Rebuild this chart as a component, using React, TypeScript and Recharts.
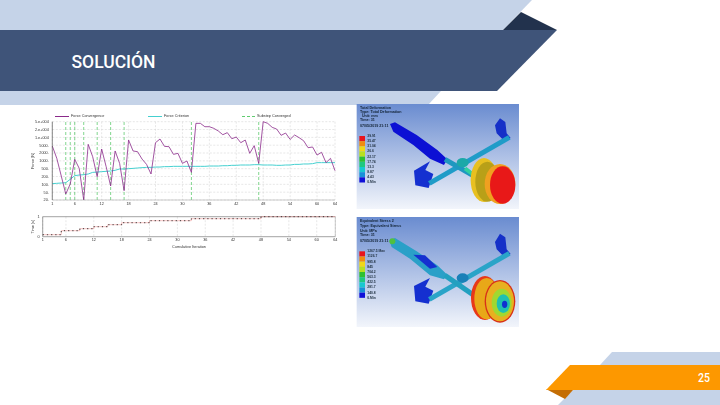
import { CartesianGrid, Line, LineChart, ReferenceLine, XAxis, YAxis } from 'recharts';

const iterationTicks = [1, 6, 12, 18, 24, 30, 36, 42, 48, 54, 60, 64];
const forceTickLabels = ['20.', '50.', '100.', '200.', '500.', '1000.', '2000.', '5000.', '1.e+004', '2.e+004', '5.e+004'];
const forceTicks = [0, 1, 2, 3, 4, 5, 6, 7, 8, 9, 10];

// values in grid steps, the force axis steps evenly through its labels
const forceConvergence = [
  6.89, 5.32, 3.06, 0.77, 2.04, 5.19, 4.04, 0, 7.11, 5.53, 2.98, 6.51, 4.26, 1.79, 6.26, 4.68,
  1.19, 7.66, 6.26, 6.17, 5.23, 4.55, 3.32, 7.32, 7.79, 6.85, 6.81, 5.83, 5.96, 4.68, 4.98, 3.53,
  9.79, 9.79, 9.36, 9.36, 9.15, 8.81, 8.34, 8.6, 7.83, 8.04, 7.32, 7.66, 5.96, 6.94, 4.68, 10,
  9.79, 9.28, 9.06, 8.26, 8.55, 7.74, 8.3, 7.96, 7.57, 6.68, 6.77, 5.74, 6.09, 4.77, 5.32, 3.74,
];
const forceCriterion = [
  2.09, 2.13, 2.17, 2.21, 2.64, 3.11, 3.19, 3.23, 3.32, 3.53, 3.57, 3.62, 3.66, 3.7, 3.79, 3.96,
  3.96, 4, 4.04, 4.09, 4.13, 4.17, 4.17, 4.21, 4.21, 4.26, 4.26, 4.3, 4.3, 4.3, 4.3, 4.3,
  4.3, 4.3, 4.3, 4.34, 4.34, 4.34, 4.38, 4.38, 4.43, 4.43, 4.47, 4.47, 4.47, 4.51, 4.51, 4.47,
  4.47, 4.47, 4.43, 4.43, 4.47, 4.47, 4.55, 4.55, 4.6, 4.6, 4.64, 4.77, 4.77, 4.77, 4.77, 4.77,
];
const substepConverged = [4, 5, 6, 8, 11, 14, 17, 32, 47];
const timeValues = [
  0.1, 0.1, 0.1, 0.1, 0.3, 0.3, 0.3, 0.3, 0.4, 0.4, 0.4, 0.5, 0.5, 0.5, 0.6, 0.6,
  0.6, 0.7, 0.7, 0.7, 0.7, 0.7, 0.7, 0.8, 0.8, 0.8, 0.8, 0.8, 0.8, 0.8, 0.8, 0.8,
  0.9, 0.9, 0.9, 0.9, 0.9, 0.9, 0.9, 0.9, 0.9, 0.9, 0.9, 0.9, 0.9, 0.9, 0.9, 1,
  1, 1, 1, 1, 1, 1, 1, 1, 1, 1, 1, 1, 1, 1, 1, 1,
];

const deformationLegend = ['39.91', '35.47', '31.04', '26.6', '22.17', '17.74', '13.3', '8.87', '4.43', '0.Min'];
const stressLegend = ['1267.5 Max', '1126.7', '985.8', '845', '704.2', '563.3', '422.5', '281.7', '140.8', '0.Min'];
const legendColors = ['#e8141c', '#f08c10', '#f0d818', '#b8e020', '#30c030', '#20c880', '#18c8d0', '#1890d8', '#1010d8'];

const forceData = forceConvergence.map((force, i) => ({ iter: i + 1, force, criterion: forceCriterion[i] }));
const timeData = timeValues.map((time, i) => ({ iter: i + 1, time }));

const tickStyle = { fontSize: 3.8, fill: '#333', fontFamily: 'Liberation Sans' };
const blur = 'blur(0.3px)';

function Slide() {
  return (
    <svg width={720} height={405} style={{ position: 'absolute', left: 0, top: 0 }}>
      <polygon points="0,0 532,0 503,30 0,30" fill="#c5d3e8" />
      <polygon points="0,91 441,91 428,105 0,105" fill="#c5d3e8" />
      <polygon points="503,30 521,12 557,30" fill="#22324d" />
      <polygon points="0,30 557,30 497,91 0,91" fill="#3f5479" />
      <polygon points="600,365 612,352 720,352 720,365" fill="#c5d3e8" />
      <polygon points="558,405 573,390 720,390 720,405" fill="#c5d3e8" />
      <polygon points="546,389 573,390 565,399" fill="#c46e05" />
      <polygon points="546,390 570,365 720,365 720,390" fill="#fd9800" />
      <text x={71.5} y={68} fontFamily="Roboto" fontWeight={500} fontSize={18.5} textLength={84} lengthAdjust="spacingAndGlyphs" fill="#fff">SOLUCIÓN</text>
      <text x={698} y={381.5} fontFamily="Roboto" fontWeight={500} fontSize={12} textLength={12} lengthAdjust="spacingAndGlyphs" fill="#fff">25</text>
    </svg>
  );
}

function ColorScale({ labels, y }: { labels: string[]; y: number }) {
  return (
    <g>
      {legendColors.map((c, i) => (
        <rect key={c} x={28} y={y + i * 15.5} width={17} height={15.5} fill={c} />
      ))}
      {labels.map((l, i) => (
        <text key={i} x={52} y={y + 3 + i * 15.5} fontSize={10} fontFamily="Liberation Sans" fontWeight={700} fill="#234">
          {l}
        </text>
      ))}
    </g>
  );
}

function Deformation() {
  return (
    <g transform="translate(350,100) scale(0.3333)">
      <rect x={20} y={12} width={487} height={315} fill="url(#render)" />
      <text fontSize={11} fontFamily="Liberation Sans" fontWeight={700} fill="#123">
        <tspan x={30} y={26}>Total Deformation</tspan>
        <tspan x={30} y={38}>Type: Total Deformation</tspan>
        <tspan x={36} y={50}>Unit: mm</tspan>
        <tspan x={30} y={62}>Time: 31</tspan>
        <tspan x={30} y={80}>07/05/2019 21:11</tspan>
      </text>
      <ColorScale labels={deformationLegend} y={108} />
      <polygon points="120,72 135,67 200,105 262,150 292,178 282,195 240,176 190,135 130,95" fill="#0c10d4" />
      <polygon points="192,212 240,184 226,210 250,222 236,264 196,256" fill="#1530d0" />
      <polygon points="435,76 450,55 466,66 470,100 482,114 462,122 440,100" fill="#1530c8" />
      <line x1={238} y1={250} x2={478} y2={112} stroke="#1f9cc8" strokeWidth={15} />
      <line x1={285} y1={178} x2={372} y2={228} stroke="#1e98c0" strokeWidth={15} />
      <ellipse cx={338} cy={188} rx={18} ry={14} fill="#1ca8a8" />
      <line x1={345} y1={205} x2={375} y2={228} stroke="#30d0a0" strokeWidth={12} />
      <ellipse cx={402} cy={240} rx={40} ry={66} fill="#e8c020" />
      <ellipse cx={412} cy={245} rx={36} ry={60} fill="#b8a018" />
      <ellipse cx={450} cy={252} rx={46} ry={60} fill="#f0a020" />
      <ellipse cx={458} cy={255} rx={38} ry={56} fill="#e81818" />
    </g>
  );
}

function Stress() {
  return (
    <g transform="translate(350,212) scale(0.3333)">
      <rect x={20} y={15} width={487} height={330} fill="url(#render)" />
      <text fontSize={11} fontFamily="Liberation Sans" fontWeight={700} fill="#123">
        <tspan x={30} y={30}>Equivalent Stress 2</tspan>
        <tspan x={30} y={45}>Type: Equivalent Stress</tspan>
        <tspan x={30} y={59}>Unit: MPa</tspan>
        <tspan x={30} y={73}>Time: 31</tspan>
        <tspan x={30} y={90}>07/05/2019 21:11</tspan>
      </text>
      <ColorScale labels={stressLegend} y={118} />
      <polygon points="118,85 135,78 200,118 262,160 292,188 282,202 240,190 180,140 125,105" fill="#2aa0c8" />
      <polygon points="190,128 225,130 262,165 240,170" fill="#1530d0" />
      <circle cx={127} cy={88} r={9} fill="#50c040" />
      <polygon points="192,222 240,198 226,224 250,236 236,275 196,268" fill="#1530d0" />
      <polygon points="435,90 450,65 466,76 470,112 482,126 462,134 440,112" fill="#1530c8" />
      <line x1={238} y1={262} x2={478} y2={124} stroke="#2aa4c8" strokeWidth={15} />
      <line x1={285} y1={190} x2={372} y2={250} stroke="#22a0c0" strokeWidth={15} />
      <ellipse cx={338} cy={198} rx={18} ry={14} fill="#1a80b8" />
      <ellipse cx={405} cy={258} rx={42} ry={66} fill="#e83818" />
      <ellipse cx={410} cy={260} rx={37} ry={62} fill="#e8a818" />
      <ellipse cx={450} cy={268} rx={46} ry={64} fill="#d83018" />
      <ellipse cx={450} cy={268} rx={42} ry={60} fill="#e8b020" />
      <ellipse cx={455} cy={272} rx={30} ry={42} fill="#a0d830" />
      <ellipse cx={460} cy={275} rx={20} ry={28} fill="#20c0b0" />
      <ellipse cx={464} cy={277} rx={8} ry={11} fill="#1030d0" />
    </g>
  );
}

function Renders() {
  return (
    <svg width={720} height={405} style={{ position: 'absolute', left: 0, top: 0, filter: 'blur(0.45px)' }}>
      <defs>
        <linearGradient id="render" x1="0" y1="0" x2="0" y2="1">
          <stop offset="0" stopColor="#6a8cd0" />
          <stop offset="1" stopColor="#f2f5fb" />
        </linearGradient>
      </defs>
      <Deformation />
      <Stress />
    </svg>
  );
}

function ForceLegend() {
  const item = (left: number, w: number, color: string, label: string, dash: boolean) => (
    <div style={{ position: 'absolute', left, top: 0, display: 'flex', alignItems: 'center', height: 6 }}>
      <div style={{ width: w, borderTop: `1px ${dash ? 'dashed' : 'solid'} ${color}`, marginRight: 2 }} />
      <span style={{ fontSize: 3.8, color: '#333', fontFamily: 'Liberation Sans', whiteSpace: 'nowrap' }}>{label}</span>
    </div>
  );
  return (
    <div style={{ position: 'absolute', left: 0, top: 113, width: 720, height: 6, filter: blur }}>
      {item(55, 14, '#8a2a8a', 'Force Convergence', false)}
      {item(148, 14, '#45d0d0', 'Force Criterion', false)}
      {item(242, 13, '#60cc70', 'Substep Converged', true)}
    </div>
  );
}

function ForceChart() {
  return (
    <div style={{ position: 'absolute', left: 20, top: 105, filter: blur }}>
      <LineChart width={330} height={106} data={forceData} margin={{ top: 16.7, right: 15, bottom: 0, left: 4.3 }}>
        <CartesianGrid stroke="#cfcfcf" strokeWidth={0.5} strokeDasharray="2 1.5" />
        <XAxis
          dataKey="iter"
          type="number"
          domain={[1, 64]}
          ticks={iterationTicks}
          interval={0}
          height={11}
          tick={tickStyle}
          tickSize={1}
          tickLine={false}
          axisLine={{ stroke: '#999', strokeWidth: 0.5 }}
          tickMargin={1}
        />
        <YAxis
          type="number"
          domain={[0, 10]}
          ticks={forceTicks}
          interval={0}
          width={28}
          tick={tickStyle}
          tickSize={1}
          tickFormatter={(v: number) => forceTickLabels[v]}
          tickLine={false}
          axisLine={{ stroke: '#555', strokeWidth: 0.7 }}
          tickMargin={2.5}
          label={{ value: 'Force [N]', angle: -90, position: 'insideLeft', offset: 8, style: { fontSize: 4, fill: '#333', fontFamily: 'Liberation Sans', textAnchor: 'middle' } }}
        />
        {substepConverged.map((it) => (
          <ReferenceLine key={it} x={it} stroke="#62cc72" strokeWidth={0.8} strokeDasharray="3 2" />
        ))}
        <Line dataKey="criterion" stroke="#45d0d0" strokeWidth={1} dot={false} isAnimationActive={false} />
        <Line dataKey="force" stroke="#8a2a8a" strokeWidth={0.8} dot={false} isAnimationActive={false} />
      </LineChart>
    </div>
  );
}

function TimeChart() {
  return (
    <div style={{ position: 'absolute', left: 20, top: 207, filter: blur }}>
      <LineChart width={330} height={45} data={timeData} margin={{ top: 9.7, right: 14.7, bottom: 0, left: 2.7 }}>
        <CartesianGrid stroke="#cfcfcf" strokeWidth={0.5} strokeDasharray="2 1.5" horizontal={false} />
        <XAxis
          dataKey="iter"
          type="number"
          domain={[1, 64]}
          ticks={iterationTicks}
          interval={0}
          height={15.3}
          tick={tickStyle}
          tickSize={1}
          tickLine={false}
          axisLine={{ stroke: '#666', strokeWidth: 0.6 }}
          tickMargin={1}
          label={{ value: 'Cumulative Iteration', position: 'insideBottom', offset: 4.5, style: { fontSize: 3.8, fill: '#333', fontFamily: 'Liberation Sans' } }}
        />
        <YAxis
          type="number"
          domain={[0, 1]}
          ticks={[0, 1]}
          interval={0}
          width={20}
          tick={tickStyle}
          tickSize={1}
          tickLine={false}
          axisLine={{ stroke: '#666', strokeWidth: 0.6 }}
          tickMargin={2}
          label={{ value: 'Time [s]', angle: -90, position: 'insideLeft', offset: 10, style: { fontSize: 3.8, fill: '#333', fontFamily: 'Liberation Sans', textAnchor: 'middle' } }}
        />
        <ReferenceLine y={1} stroke="#666" strokeWidth={0.6} />
        <ReferenceLine x={64} stroke="#999" strokeWidth={0.5} />
        <Line type="stepAfter" dataKey="time" stroke="#e88" strokeWidth={0.5} dot={false} isAnimationActive={false} />
        <Line type="stepAfter" dataKey="time" stroke="#222" strokeWidth={0.9} strokeDasharray="1.2 3" dot={false} isAnimationActive={false} />
      </LineChart>
    </div>
  );
}

export default function App() {
  return (
    <div style={{ position: 'absolute', left: 0, top: 0, width: 720, height: 405, background: '#fff', overflow: 'hidden' }}>
      <Slide />
      <Renders />
      <ForceLegend />
      <ForceChart />
      <TimeChart />
    </div>
  );
}
